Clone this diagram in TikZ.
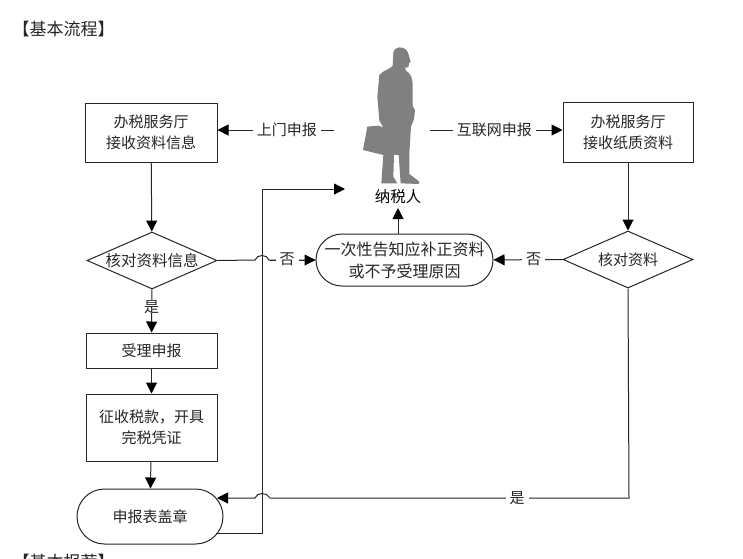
\documentclass[tikz,border=0pt]{standalone}
\usepackage{fontspec}
\setmainfont{Noto Sans CJK SC}
\usetikzlibrary{shapes.geometric,shapes.misc,arrows.meta}
\tikzset{
  base/.style={draw=black!85,line width=1pt,fill=white,align=center,font=\fontsize{15}{21}\selectfont,text=black!85,inner sep=0pt},
  boxn/.style={base,rectangle},
  dia/.style={base,diamond,aspect=2.3},
  term/.style={base,rounded rectangle},
  lab/.style={font=\fontsize{15}{21}\selectfont,text=black!85,inner ysep=0pt,inner xsep=4pt,fill=white},
  conn/.style={draw=black!85,line width=1pt},
  arr/.style={conn,-{Triangle[length=11pt,width=11pt,black]}}
}
\begin{document}
\begin{tikzpicture}[x=1pt,y=-1pt]
\useasboundingbox (0,0) rectangle (743,558);
\fill[white] (0,0) rectangle (743,558);
\node[lab,anchor=west,inner xsep=0pt,font=\fontsize{17}{21}\selectfont] (title) at (12.5,29) {【基本流程】};
\node[lab,anchor=west,inner xsep=0pt,font=\fontsize{17}{21}\selectfont] (title2) at (12.5,562) {【基本报荐】};
% person
\begin{scope}[shift={(340,30)},x=0.3333pt,y=-0.3333pt]
\fill[black!50] (178,52) .. controls (195,52) and (205,62) .. (207,78) -- (212,95) -- (207,100) -- (205,112) -- (195,113) -- (198,122)
 .. controls (212,130) and (218,145) .. (218,165) -- (218,228) -- (225,240) -- (222,268) -- (213,290) -- (208,370) -- (208,432) -- (238,455) -- (236,462) -- (182,460) -- (176,375) -- (162,375) -- (160,440) -- (172,460) -- (124,460) -- (130,375)
 -- (69,360) -- (82,290) -- (115,287) -- (130,292) -- (118,272) -- (112,200) -- (118,135) .. controls (130,120) and (150,118) .. (158,108) -- (160,68) .. controls (162,58) and (170,52) .. (178,52) -- cycle;
\end{scope}
\node[inner sep=0pt,text=black,font=\fontsize{15.5}{20}\selectfont] (tax) at (398,197) {纳税人};
% nodes
\node[boxn,minimum width=132pt,minimum height=59pt] (b1) at (151,132.5) {办税服务厅\\接收资料信息};
\node[dia,minimum width=130pt,minimum height=57pt,font=\fontsize{15.5}{21}\selectfont] (d1) at (152,260.5) {核对资料信息};
\node[boxn,minimum width=131pt,minimum height=35pt] (b2) at (151.5,350.5) {受理申报};
\node[boxn,minimum width=131pt,minimum height=67pt] (b3) at (151.5,427.5) {征收税款，开具\\完税凭证};
\node[term,minimum width=146pt,minimum height=55pt] (t1) at (150,516.5) {申报表盖章};
\node[boxn,minimum width=130pt,minimum height=60pt] (b4) at (628,132) {办税服务厅\\接收纸质资料};
\node[dia,minimum width=130pt,minimum height=57pt] (d2) at (628,259.5) {核对资料};
\node[term,minimum width=177pt,minimum height=52pt,font=\fontsize{16}{22}\selectfont] (t2) at (404.5,260) {一次性告知应补正资料\\或不予受理原因};
% free ends
\coordinate (pl) at (334,130);
\coordinate (pr) at (430,130);
\coordinate (pa) at (345,189);
\coordinate (t1in) at (217,498);
\coordinate (t1out) at (216,533);
\coordinate (t2top) at (398,234);
\coordinate (taxin) at (398,208);
% connectors
\draw[arr] (pl) -- (b1.east |- pl) node[lab,pos=0.405] (l1) {上门申报};
\draw[arr] (pr) -- (b4.west |- pr) node[lab,pos=0.485] (l2) {互联网申报};
\draw[arr] (b1) -- (d1);
\draw[arr] (d1) -- (b2) node[lab,pos=0.4] (l3) {是};
\draw[arr] (b2) -- (b3);
\draw[arr] (b3) -- (t1);
\draw[arr] (b4) -- (d2);
\draw[arr] (t2top) -- (taxin);
\draw[arr] (d2) -- (t2) node[lab,pos=0.42] (l4) {否};
\draw[conn] (d1.east) -- (255,260) .. controls (257,254) and (267,254) .. (269,260) -- (t2.west);
\draw[arr] (270,260) -- (t2.west);
\node[lab] (l5) at (287,259) {否};
\draw[arr] (d2.south) -- (629,498) -- (270,498) .. controls (267,492) and (257,492) .. (255,498) -- (t1in);
\node[lab] (l6) at (517,498) {是};
\draw[arr] (t1out) -- (262,533) -- (262,189) -- (pa);
\end{tikzpicture}
\end{document}
